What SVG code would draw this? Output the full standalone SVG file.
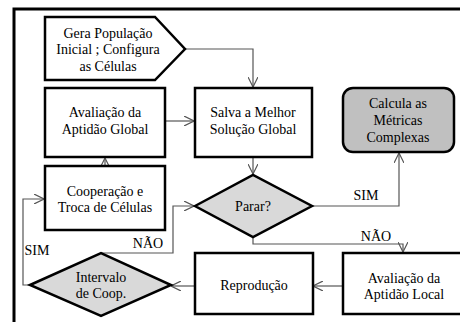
<svg xmlns="http://www.w3.org/2000/svg" width="460" height="322" viewBox="0 0 460 322" font-family="Liberation Serif, Times New Roman, serif">
<defs>
<style>
.box{fill:#fff;stroke:#000;stroke-width:2.5}
.gray{fill:#d9d9d9;stroke:#000;stroke-width:2.5}
.dark{fill:#c0c0c0;stroke:#000;stroke-width:2.5}
.con{fill:none;stroke:#555;stroke-width:1.2}
.t{font-family:"Liberation Serif","Times New Roman",serif;font-size:14px;fill:#000;text-anchor:middle}
</style>
<marker id="arr" viewBox="0 0 10 10" refX="10" refY="5" markerWidth="10" markerHeight="10" markerUnits="userSpaceOnUse" orient="auto">
<path d="M0,0 L10,5 L0,10" fill="none" stroke="#555" stroke-width="1.2"/>
</marker>
</defs>
<rect x="0" y="0" width="460" height="322" fill="#fff"/>
<path d="M14,323 V9 H461" fill="none" stroke="#000" stroke-width="3"/>
<g id="connectors">
<path class="con" d="M185,49 H253 V87" marker-end="url(#arr)"/>
<path class="con" d="M165,121 H194" marker-end="url(#arr)"/>
<path class="con" d="M105,166 V158" marker-end="url(#arr)"/>
<path class="con" d="M253,157 V174" marker-end="url(#arr)"/>
<path class="con" d="M312,206 H399 V153" marker-end="url(#arr)"/>
<path class="con" d="M253,237 V244 H403 V252" marker-end="url(#arr)"/>
<path class="con" d="M343,286 H313" marker-end="url(#arr)"/>
<path class="con" d="M195,286 H171" marker-end="url(#arr)"/>
<path class="con" d="M30,285 H23 V199 H44" marker-end="url(#arr)"/>
<path class="con" d="M100,253 H173 V206 H194" marker-end="url(#arr)"/>
<text class="t" x="366" y="200">SIM</text>
<text class="t" x="376" y="241">NÃO</text>
<text class="t" x="148" y="248">NÃO</text>
<text class="t" x="37" y="255">SIM</text>
</g>
<g id="gera">
<path class="box" d="M45,17 H155 L185,49 L155,80 H45 Z"/>
<text class="t" x="108" y="38">Gera População</text>
<text class="t" x="108" y="54">Inicial ; Configura</text>
<text class="t" x="108" y="71">as Células</text>
</g>
<g id="aval-global">
<rect class="box" x="45" y="88" width="120" height="69"/>
<text class="t" x="105" y="117">Avaliação da</text>
<text class="t" x="105" y="134">Aptidão Global</text>
</g>
<g id="salva">
<rect class="box" x="195" y="88" width="117" height="69"/>
<text class="t" x="253" y="117">Salva a Melhor</text>
<text class="t" x="253" y="134">Solução Global</text>
</g>
<g id="calcula">
<rect class="dark" x="343" y="88" width="111" height="64" rx="10"/>
<text class="t" x="398" y="108">Calcula as</text>
<text class="t" x="398" y="125">Métricas</text>
<text class="t" x="398" y="142">Complexas</text>
</g>
<g id="cooperacao">
<rect class="box" x="45" y="166" width="120" height="64"/>
<text class="t" x="105" y="196">Cooperação e</text>
<text class="t" x="105" y="212">Troca de Células</text>
</g>
<g id="parar">
<path class="gray" d="M195,206 L253,175 L312,206 L253,237 Z"/>
<text class="t" x="253" y="211">Parar?</text>
</g>
<g id="aval-local">
<rect class="box" x="343" y="253" width="125" height="61"/>
<text class="t" x="404" y="283">Avaliação da</text>
<text class="t" x="404" y="299">Aptidão Local</text>
</g>
<g id="reproducao">
<rect class="box" x="195" y="253" width="118" height="61"/>
<text class="t" x="254" y="290">Reprodução</text>
</g>
<g id="intervalo">
<path class="gray" d="M30,285 L101,253 L171,285 L101,316 Z"/>
<text class="t" x="101" y="282">Intervalo</text>
<text class="t" x="101" y="298">de Coop.</text>
</g>
</svg>
